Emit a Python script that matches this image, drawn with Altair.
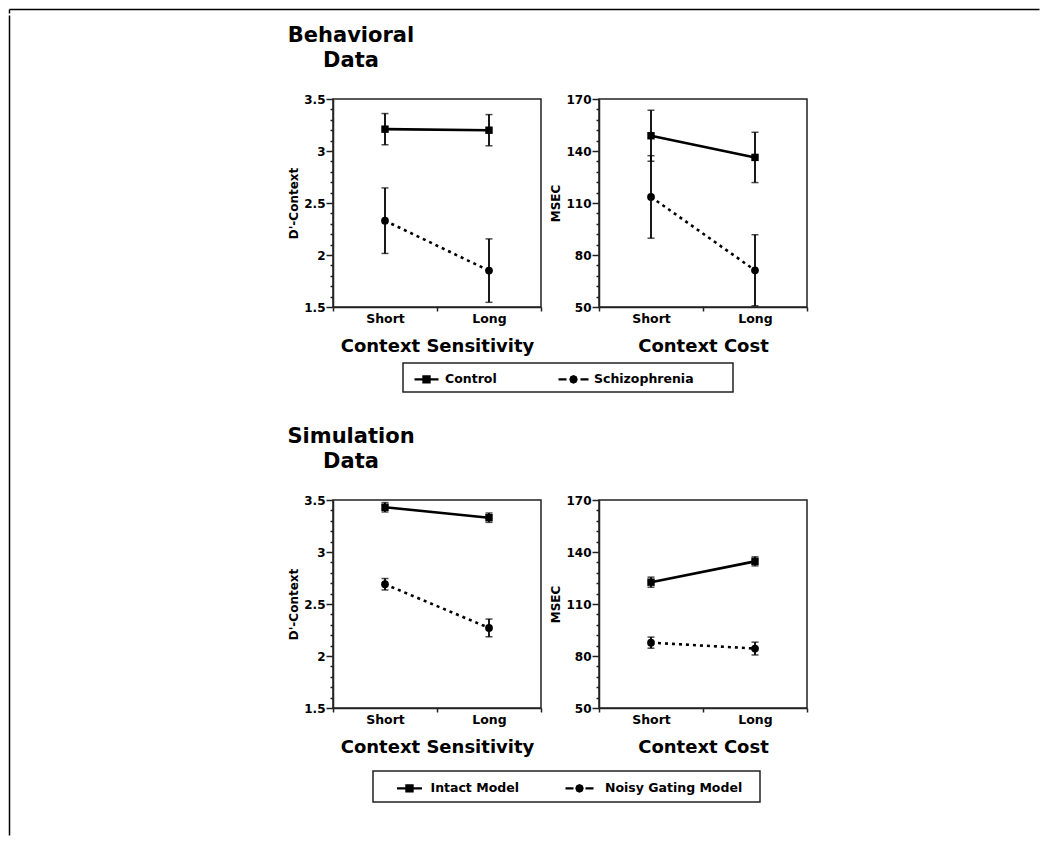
import json
import altair as alt
import pandas as pd

FONT = "DejaVu Sans"

# ---------------- data ----------------
conds = ["Short", "Long"]
beh_groups = ["Control", "Schizophrenia"]
sim_groups = ["Intact Model", "Noisy Gating Model"]

# Behavioral data, D'-Context
beh_d_control = [3.21, 3.20]
beh_d_control_err = [0.15, 0.15]
beh_d_schiz = [2.33, 1.85]
beh_d_schiz_err = [0.315, 0.305]

# Behavioral data, MSEC
beh_ms_control = [148.8, 136.3]
beh_ms_control_err = [14.7, 14.5]
beh_ms_schiz = [113.5, 71.2]
beh_ms_schiz_err = [23.8, 20.5]

# Simulation data, D'-Context
sim_d_intact = [3.43, 3.33]
sim_d_intact_err = [0.045, 0.045]
sim_d_noisy = [2.69, 2.27]
sim_d_noisy_err = [0.055, 0.085]

# Simulation data, MSEC
sim_ms_intact = [122.6, 134.6]
sim_ms_intact_err = [2.9, 2.6]
sim_ms_noisy = [87.7, 84.3]
sim_ms_noisy_err = [3.2, 3.7]

d_major = [1.5, 2, 2.5, 3, 3.5]
ms_major = [50, 80, 110, 140, 170]
d_ticks = [round(1.5 + 0.1 * i, 1) for i in range(21)]
ms_ticks = [50 + 6 * i for i in range(21)]


# ---------------- legend symbol shapes (line + marker) ----------------
def sq(cx, r):
    return f"M{cx - r:.3f},{-r:.3f}H{cx + r:.3f}V{r:.3f}H{cx - r:.3f}Z"


def octa(cx, r):
    k = 0.707 * r
    pts = [(cx + r, 0), (cx + k, k), (cx, r), (cx - k, k), (cx - r, 0), (cx - k, -k), (cx, -r), (cx + k, -k)]
    return "M" + "L".join(f"{x:.3f},{y:.3f}" for x, y in pts) + "Z"


path_solid = "M-1.2,0H1.2" + sq(0, 0.3) + sq(0, 0.1)
path_dash = "M-1.7,0H-0.9M0.5,0H1.3" + octa(-0.2, 0.3) + octa(-0.2, 0.1)
path_solid2 = "M-1.25,0H1.25" + sq(0, 0.3) + sq(0, 0.1)
path_dash2 = "M-1.85,0H-1.05M0.15,0H0.95" + octa(-0.45, 0.3) + octa(-0.45, 0.1)


def major_test(major):
    return f"indexof({json.dumps(major)}, datum.value) >= 0"


def panel(groups, means, errs, ytitle, ydomain, yticks, ymajor, xtitle, title=None):
    recs = []
    for g, ml, el in zip(groups, means, errs):
        for c, m, e in zip(conds, ml, el):
            recs.append(dict(cond=c, group=g, mean=m, lo=m - e, hi=m + e))
    df = pd.DataFrame(recs)
    base = alt.Chart(df).transform_calculate(
        pos=f"indexof({json.dumps(conds)}, datum.cond) * 2 + 1")

    xaxis = alt.Axis(
        values=[0, 1, 2, 3, 4],
        labelExpr=f"datum.value % 2 == 1 ? {json.dumps(conds)}[(datum.value - 1) / 2] : ''",
        tickOpacity={"condition": {"test": "datum.value % 2 == 0", "value": 1}, "value": 0},
        tickSize=4, labelPadding=1, labelFontSize=12.5, labelOverlap=False, labelFlush=False,
        title=xtitle, titleFontSize=18, titlePadding=13)
    test = major_test(ymajor)
    yaxis = alt.Axis(
        values=yticks,
        labelExpr=f"{test} ? format(datum.value, '~g') : ''",
        tickSize={"condition": {"test": test, "value": 7}, "value": 3},
        labelPadding=1, labelFontSize=12, labelOverlap=False, labelFlush=False,
        title=ytitle, titleFontSize=12, titlePadding=3)

    xs = alt.Scale(domain=[0, 4], nice=False, zero=False)
    ys = alt.Scale(domain=ydomain, nice=False, zero=False)

    def X():
        return alt.X("pos:Q", scale=xs, axis=xaxis)

    def Y(f):
        return alt.Y(f"{f}:Q", scale=ys, axis=yaxis)

    rules = base.mark_rule(color="black", strokeWidth=1.8).encode(x=X(), y=Y("lo"), y2="hi:Q")
    cap_lo = base.mark_tick(color="black", orient="horizontal", size=7, thickness=1.5).encode(x=X(), y=Y("lo"))
    cap_hi = base.mark_tick(color="black", orient="horizontal", size=7, thickness=1.5).encode(x=X(), y=Y("hi"))
    line0 = base.transform_filter(alt.datum.group == groups[0]).mark_line(
        color="black", strokeWidth=2.6).encode(x=X(), y=Y("mean"))
    line1 = base.transform_filter(alt.datum.group == groups[1]).mark_line(
        color="black", strokeWidth=2.6, strokeDash=[3, 4]).encode(x=X(), y=Y("mean"))
    pts0 = base.transform_filter(alt.datum.group == groups[0]).mark_point(
        shape="square", filled=True, color="black", size=55, opacity=1).encode(x=X(), y=Y("mean"))
    pts1 = base.transform_filter(alt.datum.group == groups[1]).mark_point(
        shape="circle", filled=True, color="black", size=60, opacity=1).encode(x=X(), y=Y("mean"))

    ch = alt.layer(rules, cap_lo, cap_hi, line0, line1, pts0, pts1).properties(width=208, height=208)
    if title is not None:
        ch = ch.properties(title=alt.TitleParams(
            text=title, anchor="start", align="center", dx=18, frame="group",
            fontSize=21, lineHeight=25, offset=22))
    return ch


def spacer(w, h=1):
    return alt.Chart(pd.DataFrame({"s": [0]})).transform_filter("false").mark_point().properties(
        width=w, height=h, view=alt.ViewBackground(stroke="transparent"))


def legend_chart(groups, field, paths, w, h, lx, ly, loff, cpad):
    df = pd.DataFrame({field: groups, "v": [0] * len(groups)})
    hid = alt.Scale(domain=[0, 1], nice=False)
    return alt.Chart(df).transform_filter("false").mark_point(
        filled=False, color="black", strokeWidth=2.4, opacity=1).encode(
        x=alt.X("v:Q", scale=hid, axis=None),
        y=alt.Y("v:Q", scale=hid, axis=None),
        shape=alt.Shape(f"{field}:N", scale=alt.Scale(domain=groups, range=paths),
                        legend=alt.Legend(orient="none", legendX=lx, legendY=ly, direction="horizontal",
                                          title=None, symbolSize=400, symbolStrokeWidth=2.4,
                                          symbolStrokeColor="black", symbolFillColor="transparent",
                                          symbolOpacity=1, labelFontSize=12.5, labelOffset=loff,
                                          columnPadding=cpad, padding=0, labelLimit=300))
    ).properties(width=w, height=h)


def frame_strip(w, h, top, left):
    d = pd.DataFrame({"v": [0, 1]})
    enc = {}
    if top:
        enc["x"] = alt.X("v:Q", scale=alt.Scale(domain=[0, 1], nice=False),
                         axis=alt.Axis(orient="top", ticks=False, labels=False, title=None,
                                       domainColor="black", domainWidth=1.5))
    if left:
        enc["y"] = alt.Y("v:Q", scale=alt.Scale(domain=[0, 1], nice=False),
                         axis=alt.Axis(orient="left", ticks=False, labels=False, title=None,
                                       domainColor="black", domainWidth=1.5))
    return alt.Chart(d).transform_filter("false").mark_point().encode(**enc).properties(
        width=w, height=h, view=alt.ViewBackground(stroke="transparent"))


def ind(c):
    return c.resolve_scale(x="independent", y="independent", shape="independent").resolve_legend(
        shape="independent")


tl = panel(beh_groups, [beh_d_control, beh_d_schiz], [beh_d_control_err, beh_d_schiz_err],
           "D'-Context", [1.5, 3.5], d_ticks, d_major, "Context Sensitivity", title=["Behavioral", "Data"])
tr = panel(beh_groups, [beh_ms_control, beh_ms_schiz], [beh_ms_control_err, beh_ms_schiz_err],
           "MSEC", [50, 170], ms_ticks, ms_major, "Context Cost")
bl = panel(sim_groups, [sim_d_intact, sim_d_noisy], [sim_d_intact_err, sim_d_noisy_err],
           "D'-Context", [1.5, 3.5], d_ticks, d_major, "Context Sensitivity", title=["Simulation", "Data"])
br = panel(sim_groups, [sim_ms_intact, sim_ms_noisy], [sim_ms_intact_err, sim_ms_noisy_err],
           "MSEC", [50, 170], ms_ticks, ms_major, "Context Cost")

row1 = ind(alt.hconcat(tl, tr, spacing=6))
row2 = ind(alt.hconcat(bl, br, spacing=6))
leg1 = ind(alt.hconcat(spacer(68), legend_chart(beh_groups, "group", [path_solid, path_dash],
                                                330, 29, 12, 4.5, 7, 56), spacing=0))
leg2 = ind(alt.hconcat(spacer(38), legend_chart(sim_groups, "model", [path_solid2, path_dash2],
                                                387, 31, 25, 5.5, 9.5, 41.5), spacing=0))

sec1 = ind(alt.vconcat(row1, leg1, spacing=5))
sec2 = ind(alt.vconcat(row2, leg2, spacing=12))
column = ind(alt.vconcat(spacer(1, 8), ind(alt.vconcat(sec1, sec2, spacing=32)), spacing=0))
body = ind(alt.hconcat(frame_strip(276, 820, False, True), column, spacing=0))
chart = ind(alt.vconcat(frame_strip(1030, 4, True, True), body, spacing=0)).properties(
    padding=0
).configure_view(
    stroke="#222", strokeWidth=1.5
).configure_axis(
    labelFont=FONT, labelFontWeight="bold", titleFont=FONT, titleFontWeight="bold",
    labelColor="black", titleColor="black", domainColor="#222", tickColor="#222",
    domainWidth=1.5, tickWidth=1.5, grid=False
).configure_title(
    font=FONT, fontWeight="bold", color="black"
).configure_legend(
    labelFont=FONT, labelFontWeight="bold", labelColor="black"
)

chart.save("out.html", embed_options={"renderer": "svg", "actions": False})
